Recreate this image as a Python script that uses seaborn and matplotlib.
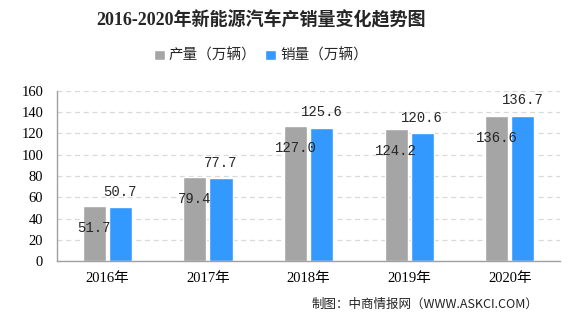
import matplotlib
matplotlib.use("Agg")
import matplotlib.pyplot as plt
import seaborn as sns
import pandas as pd

years = ["2016年", "2017年", "2018年", "2019年", "2020年"]
production = [51.7, 79.4, 127.0, 124.2, 136.6]
sales = [50.7, 77.7, 125.6, 120.6, 136.7]
series_names = ["产量（万辆）", "销量（万辆）"]
yticks = [0, 20, 40, 60, 80, 100, 120, 140, 160]

sns.set_theme(style="white")
plt.rcParams["font.family"] = ["Liberation Serif", "Noto Sans CJK SC", "DejaVu Sans"]

df = pd.DataFrame({
    "year": years * 2,
    "value": production + sales,
    "series": [series_names[0]] * len(years) + [series_names[1]] * len(years),
})

fig = plt.figure(figsize=(5.78, 3.18), dpi=100)
ax = fig.add_axes([0.0986, 0.179, 0.8704, 0.535])

palette = {series_names[0]: "#A5A5A5", series_names[1]: "#3399FF"}
sns.barplot(data=df, x="year", y="value", hue="series", palette=palette,
            width=0.52, gap=0.12, saturation=1, ax=ax, legend=True)

ax.set_ylim(0, 160)
ax.set_yticks(yticks)
ax.set_xlim(-0.5, len(years) - 0.5)
ax.set_xlabel("")
ax.set_ylabel("")
ax.yaxis.grid(True, linestyle=(0, (4, 3)), color="#D9D9D9", linewidth=0.9)
ax.set_axisbelow(True)
for s in ["top", "right"]:
    ax.spines[s].set_visible(False)
for s in ["left", "bottom"]:
    ax.spines[s].set_color("#A0A0A0")
    ax.spines[s].set_linewidth(1.0)
ax.tick_params(axis="both", length=0, labelsize=10.5, colors="black")
ax.tick_params(axis="x", pad=8)
ax.tick_params(axis="y", pad=10)

lab_font = dict(family=["Liberation Mono", "DejaVu Sans Mono"], size=10)
c0, c1 = ax.containers[0], ax.containers[1]
ax.bar_label(c0, labels=[f"{v:.1f}" for v in production], padding=-21, fontproperties=None, **lab_font)
ax.bar_label(c1, labels=[f"{v:.1f}" for v in sales], padding=6, **lab_font)

leg = ax.legend(loc="center", bbox_to_anchor=(0.5 * 0 + (261 - 57) / 503, 1.0 + (261 - 56) / 170 - 1.0 + 0.0),
                ncol=2, frameon=False, fontsize=10.5, handlelength=0.75, handleheight=0.75,
                handletextpad=0.3, columnspacing=0.6,
                prop={"family": ["Noto Sans CJK SC"], "size": 10.5})
leg.set_bbox_to_anchor(((261 - 57) / 503, (261 - 56) / 170), transform=ax.transAxes)

fig.text(261 / 578, 1 - 20 / 318, "2016-2020年新能源汽车产销量变化趋势图", ha="center", va="center",
         fontsize=13, fontweight="bold", family=["Liberation Serif", "Noto Sans CJK SC"])
fig.text(312 / 578, 1 - 304 / 318, "制图：中商情报网（WWW.ASKCI.COM）", ha="left", va="center",
         fontsize=9, family=["Noto Sans CJK SC"], color="#222222")

fig.savefig("out.png", dpi=100)
